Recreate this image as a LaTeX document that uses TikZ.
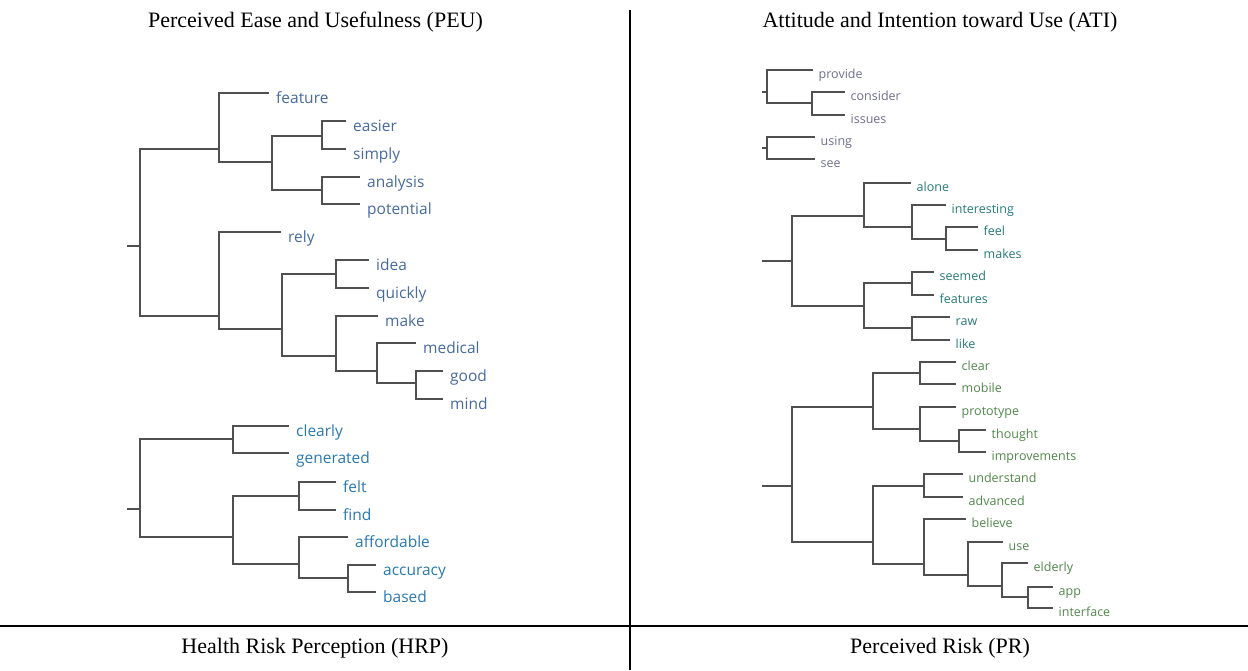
\documentclass[tikz,border=0pt]{standalone}
\usepackage{fontspec}
\setmainfont{Liberation Serif}
\newfontfamily\lblfont{Open Sans}
\definecolor{linec}{RGB}{80,80,80}
\definecolor{peuc}{RGB}{70,105,160}
\definecolor{hrpc}{RGB}{40,120,175}
\definecolor{grayc}{RGB}{110,110,140}
\definecolor{tealc}{RGB}{40,120,120}
\definecolor{greenc}{RGB}{80,135,75}
\tikzset{
  dl/.style={draw=linec, line width=2pt, line cap=rect},
  divider/.style={draw=black, line width=2pt},
  head/.style={font=\fontsize{22}{26}\selectfont, inner sep=0pt},
  bigl/.style={font=\lblfont\fontsize{15.5}{18}\selectfont, inner sep=0pt},
  smalll/.style={font=\lblfont\fontsize{12.5}{15}\selectfont, inner sep=0pt},
  peu/.style={bigl, text=peuc},
  hrp/.style={bigl, text=hrpc},
  atigray/.style={smalll, text=grayc},
  atiteal/.style={smalll, text=tealc},
  atigreen/.style={smalll, text=greenc}
}
% bracket: parent x, own x, own y, vertical top, vertical bottom
\newcommand{\dbr}[5]{\draw[dl] (#1,#3) -- (#2,#3) (#2,#4) -- (#2,#5);}
% leaf: start x, end x, y, text, style
\newcommand{\dleaf}[5]{\draw[dl] (#1,#3) -- (#2,#3);
  \node[#5, anchor=base west] (w-#4) at ({#2+\dgap},{#3+\dbase}) {#4};}
\def\dgap{8}
\def\dbase{10}
\begin{document}
\begin{tikzpicture}[x=1pt,y=-1pt]
\useasboundingbox (0,0) rectangle (1248,670);
% frame lines
\coordinate (vt) at (630,10);
\coordinate (vb) at (630,670);
\coordinate (hl) at (0,626);
\coordinate (hr) at (1248,626);
\draw[divider] (vt) -- (vb);
\draw[divider] (hl) -- (hr);
% headings
\node[head] (tPEU) at (315.5,22) {Perceived Ease and Usefulness (PEU)};
\node[head] (tATI) at (940,22) {Attitude and Intention toward Use (ATI)};
\node[head] (tHRP) at (315,648) {Health Risk Perception (HRP)};
\node[head] (tPR) at (940,648) {Perceived Risk (PR)};

% ---------- PEU ----------
\draw[dl] (128,246) -- (140,246) (140,149) -- (140,316);
\dbr{140}{219}{149}{93}{162}
\dleaf{219}{268}{93}{feature}{peu}
\dbr{219}{272}{162}{136}{190}
\dbr{272}{322}{136}{121}{149}
\dleaf{322}{345}{121}{easier}{peu}
\dleaf{322}{345}{149}{simply}{peu}
\dbr{272}{322}{190}{177}{204}
\dleaf{322}{359}{177}{analysis}{peu}
\dleaf{322}{359}{204}{potential}{peu}
\dbr{140}{219}{316}{232}{329}
\dleaf{219}{280}{232}{rely}{peu}
\dbr{219}{282}{329}{274}{356}
\dbr{282}{336}{274}{260}{288}
\dleaf{336}{368}{260}{idea}{peu}
\dleaf{336}{368}{288}{quickly}{peu}
\dbr{282}{336}{356}{316}{371}
\dleaf{336}{377}{316}{make}{peu}
\dbr{336}{377}{371}{343}{383}
\dleaf{377}{415}{343}{medical}{peu}
\dbr{377}{416}{383}{371}{399}
\dleaf{416}{442}{371}{good}{peu}
\dleaf{416}{442}{399}{mind}{peu}

% ---------- HRP ----------
\draw[dl] (128,509) -- (140,509) (140,439) -- (140,537);
\dbr{140}{233}{439}{426}{453}
\dleaf{233}{288}{426}{clearly}{hrp}
\dleaf{233}{288}{453}{generated}{hrp}
\dbr{140}{233}{537}{496}{564}
\dbr{233}{299}{496}{482}{510}
\dleaf{299}{335}{482}{felt}{hrp}
\dleaf{299}{335}{510}{find}{hrp}
\dbr{233}{299}{564}{537}{578}
\dleaf{299}{347}{537}{affordable}{hrp}
\dbr{299}{348}{578}{565}{592}
\dleaf{348}{375}{565}{accuracy}{hrp}
\dleaf{348}{375}{592}{based}{hrp}

% ---------- ATI ----------
\def\dgap{6.5}
\def\dbase{8}
\draw[dl] (763,92) -- (767,92) (767,70) -- (767,103);
\dleaf{767}{812}{70}{provide}{atigray}
\dbr{767}{812}{103}{92}{115}
\dleaf{812}{844}{92}{consider}{atigray}
\dleaf{812}{844}{115}{issues}{atigray}
\draw[dl] (763,148) -- (767,148) (767,137) -- (767,159);
\dleaf{767}{814}{137}{using}{atigray}
\dleaf{767}{814}{159}{see}{atigray}

\draw[dl] (763,261) -- (792,261) (792,216) -- (792,306);
\dbr{792}{864}{216}{183}{227}
\dleaf{864}{910}{183}{alone}{atiteal}
\dbr{864}{912}{227}{205}{239}
\dleaf{912}{945}{205}{interesting}{atiteal}
\dbr{912}{946}{239}{227}{250}
\dleaf{946}{977}{227}{feel}{atiteal}
\dleaf{946}{977}{250}{makes}{atiteal}
\dbr{792}{864}{306}{283}{328}
\dbr{864}{912}{283}{272}{295}
\dleaf{912}{933}{272}{seemed}{atiteal}
\dleaf{912}{933}{295}{features}{atiteal}
\dbr{864}{912}{328}{317}{340}
\dleaf{912}{949}{317}{raw}{atiteal}
\dleaf{912}{949}{340}{like}{atiteal}

% ---------- PR ----------
\draw[dl] (763,486) -- (792,486) (792,407) -- (792,542);
\dbr{792}{873}{407}{373}{429}
\dbr{873}{920}{373}{362}{384}
\dleaf{920}{955}{362}{clear}{atigreen}
\dleaf{920}{955}{384}{mobile}{atigreen}
\dbr{873}{920}{429}{407}{441}
\dleaf{920}{955}{407}{prototype}{atigreen}
\dbr{920}{959}{441}{430}{452}
\dleaf{959}{985}{430}{thought}{atigreen}
\dleaf{959}{985}{452}{improvements}{atigreen}
\dbr{792}{873}{542}{486}{564}
\dbr{873}{924}{486}{474}{497}
\dleaf{924}{962}{474}{understand}{atigreen}
\dleaf{924}{962}{497}{advanced}{atigreen}
\dbr{873}{924}{564}{519}{575}
\dleaf{924}{965}{519}{believe}{atigreen}
\dbr{924}{968}{575}{542}{586}
\dleaf{968}{1002}{542}{use}{atigreen}
\dbr{968}{1002}{586}{563}{597}
\dleaf{1002}{1027}{563}{elderly}{atigreen}
\dbr{1002}{1028}{597}{587}{608}
\dleaf{1028}{1052}{587}{app}{atigreen}
\dleaf{1028}{1052}{608}{interface}{atigreen}
\end{tikzpicture}
\end{document}
